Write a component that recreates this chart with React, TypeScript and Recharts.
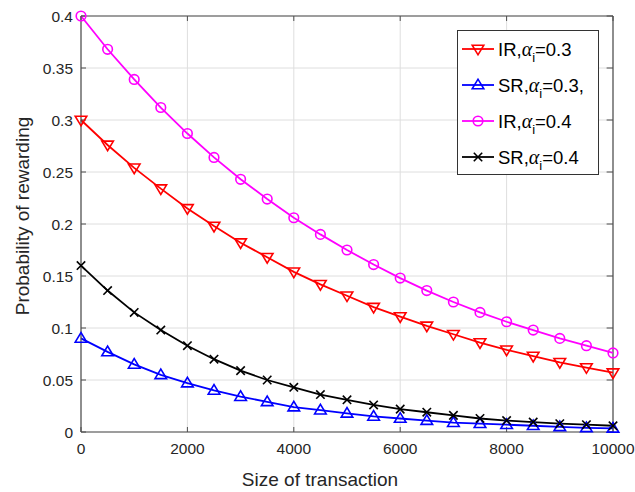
import React from 'react';
import { LineChart, Line, XAxis, YAxis, CartesianGrid, ReferenceLine } from 'recharts';

const sizes = [0, 500, 1000, 1500, 2000, 2500, 3000, 3500, 4000, 4500, 5000, 5500, 6000, 6500, 7000, 7500, 8000, 8500, 9000, 9500, 10000];
const irA03 = [0.3, 0.276, 0.254, 0.234, 0.215, 0.198, 0.182, 0.168, 0.154, 0.142, 0.131, 0.12, 0.111, 0.102, 0.094, 0.086, 0.079, 0.073, 0.067, 0.062, 0.057];
const srA03 = [0.09, 0.077, 0.065, 0.055, 0.047, 0.04, 0.034, 0.029, 0.024, 0.021, 0.018, 0.015, 0.013, 0.011, 0.009, 0.008, 0.007, 0.006, 0.005, 0.004, 0.0035];
const irA04 = [0.4, 0.368, 0.339, 0.312, 0.287, 0.264, 0.243, 0.224, 0.206, 0.19, 0.175, 0.161, 0.148, 0.136, 0.125, 0.115, 0.106, 0.098, 0.09, 0.083, 0.076];
const srA04 = [0.16, 0.136, 0.115, 0.098, 0.083, 0.07, 0.059, 0.05, 0.043, 0.036, 0.031, 0.026, 0.022, 0.019, 0.016, 0.013, 0.011, 0.0095, 0.008, 0.007, 0.006];

const xTicks = [0, 2000, 4000, 6000, 8000, 10000];
const yTicks = [0, 0.05, 0.1, 0.15, 0.2, 0.25, 0.3, 0.35, 0.4];
const xMax = 10000;
const yMax = 0.4;

const data = sizes.map((s, i) => ({ s, irA03: irA03[i], srA03: srA03[i], irA04: irA04[i], srA04: srA04[i] }));

type MarkerKind = 'down' | 'up' | 'circle' | 'x';

const series: { key: string; color: string; marker: MarkerKind; prefix: string; suffix: string }[] = [
  { key: 'irA03', color: '#ff0000', marker: 'down', prefix: 'IR,', suffix: '=0.3' },
  { key: 'srA03', color: '#0000ff', marker: 'up', prefix: 'SR,', suffix: '=0.3,' },
  { key: 'irA04', color: '#ff00ff', marker: 'circle', prefix: 'IR,', suffix: '=0.4' },
  { key: 'srA04', color: '#000000', marker: 'x', prefix: 'SR,', suffix: '=0.4' },
];

function markerShape(kind: MarkerKind, cx: number, cy: number, color: string) {
  const sw = 1.6;
  if (kind === 'circle') return <circle cx={cx} cy={cy} r={4.8} fill="none" stroke={color} strokeWidth={sw} />;
  if (kind === 'down') {
    const d = `M${cx - 5.8},${cy - 3.8} L${cx + 5.8},${cy - 3.8} L${cx},${cy + 5.8} Z`;
    return <path d={d} fill="none" stroke={color} strokeWidth={sw} />;
  }
  if (kind === 'up') {
    const d = `M${cx - 5.8},${cy + 3.8} L${cx + 5.8},${cy + 3.8} L${cx},${cy - 5.8} Z`;
    return <path d={d} fill="none" stroke={color} strokeWidth={sw} />;
  }
  return (
    <g stroke={color} strokeWidth={sw}>
      <line x1={cx - 4.2} y1={cy - 4.2} x2={cx + 4.2} y2={cy + 4.2} />
      <line x1={cx - 4.2} y1={cy + 4.2} x2={cx + 4.2} y2={cy - 4.2} />
    </g>
  );
}

const makeDot = (kind: MarkerKind, color: string) => (props: any) => {
  const { cx, cy, index } = props;
  if (cx == null || cy == null) return <g key={index} />;
  return <g key={`${kind}-${index}`}>{markerShape(kind, cx, cy, color)}</g>;
};

const fmt = (v: number) => String(+v.toFixed(2));

const LegendBox = () => (
  <div
    style={{
      position: 'absolute',
      left: 457,
      top: 30,
      width: 142,
      height: 145,
      background: '#fff',
      border: '1px solid #333',
      fontFamily: '"Liberation Sans", Arial, sans-serif',
      fontSize: 18.5,
      color: '#000',
      boxSizing: 'border-box',
    }}
  >
    {series.map((s) => (
      <div key={s.key} style={{ height: 36, display: 'flex', alignItems: 'center', whiteSpace: 'nowrap' }}>
        <svg width={40} height={20} style={{ flex: 'none' }}>
          <line x1={4} y1={10} x2={36} y2={10} stroke={s.color} strokeWidth={1.8} />
          {markerShape(s.marker, 20, 10, s.color)}
        </svg>
        <span>
          {s.prefix}
          <span style={{ fontFamily: '"Liberation Serif", serif', fontStyle: 'italic', fontSize: 20 }}>α</span>
          <span style={{ fontSize: 13, position: 'relative', top: 6 }}>i</span>
          {s.suffix}
        </span>
      </div>
    ))}
  </div>
);

export default function App() {
  const tickStyle = { fill: '#262626', fontSize: 15.5, fontFamily: '"Liberation Sans", Arial, sans-serif' };
  const axisStroke = '#4d4d4d';
  const tickLenX = 0.0048; // inward tick length in data units (top edge)
  const tickLenY = 120; // inward tick length in data units (right edge)
  return (
    <div style={{ position: 'absolute', left: 0, top: 0, width: 635, height: 492, background: '#fff', overflow: 'hidden' }}>
      <LineChart width={635} height={492} data={data} margin={{ top: 16, right: 22, left: 21, bottom: 30 }}>
        <CartesianGrid stroke="#dedede" strokeWidth={1} horizontalValues={yTicks} verticalValues={xTicks} />
        <XAxis
          dataKey="s"
          type="number"
          domain={[0, xMax]}
          ticks={xTicks}
          height={30}
          tick={tickStyle}
          tickSize={-5}
          tickMargin={16}
          tickLine={{ stroke: axisStroke }}
          axisLine={{ stroke: axisStroke, strokeWidth: 1.2 }}
          interval={0}
        />
        <YAxis
          type="number"
          domain={[0, yMax]}
          ticks={yTicks}
          width={60}
          tick={tickStyle}
          tickFormatter={fmt}
          tickSize={-5}
          tickMargin={13}
          tickLine={{ stroke: axisStroke }}
          axisLine={{ stroke: axisStroke, strokeWidth: 1.2 }}
          interval={0}
        />
        <ReferenceLine y={yMax} stroke={axisStroke} strokeWidth={1.2} ifOverflow="visible" />
        <ReferenceLine x={xMax} stroke={axisStroke} strokeWidth={1.2} ifOverflow="visible" />
        {xTicks.map((t) => (
          <ReferenceLine
            key={`tt-${t}`}
            segment={[{ x: t, y: yMax }, { x: t, y: yMax - tickLenX }]}
            stroke={axisStroke}
            ifOverflow="visible"
          />
        ))}
        {yTicks.map((t) => (
          <ReferenceLine
            key={`rt-${t}`}
            segment={[{ x: xMax, y: t }, { x: xMax - tickLenY, y: t }]}
            stroke={axisStroke}
            ifOverflow="visible"
          />
        ))}
        {series.map((s) => (
          <Line
            key={s.key}
            dataKey={s.key}
            type="linear"
            stroke={s.color}
            strokeWidth={1.8}
            dot={makeDot(s.marker, s.color)}
            activeDot={false}
            isAnimationActive={false}
            legendType="none"
          />
        ))}
      </LineChart>
      <LegendBox />
      <svg width={635} height={492} style={{ position: 'absolute', left: 0, top: 0, pointerEvents: 'none' }}>
        <text
          x={22}
          y={216}
          transform="rotate(-90 22 216)"
          textAnchor="middle"
          dominantBaseline="central"
          fill="#262626"
          fontSize={19}
          fontFamily='"Liberation Sans", Arial, sans-serif'
        >
          Probability of rewarding
        </text>
        <text
          x={320}
          y={486}
          textAnchor="middle"
          fill="#262626"
          fontSize={19}
          fontFamily='"Liberation Sans", Arial, sans-serif'
        >
          Size of transaction
        </text>
      </svg>
    </div>
  );
}
